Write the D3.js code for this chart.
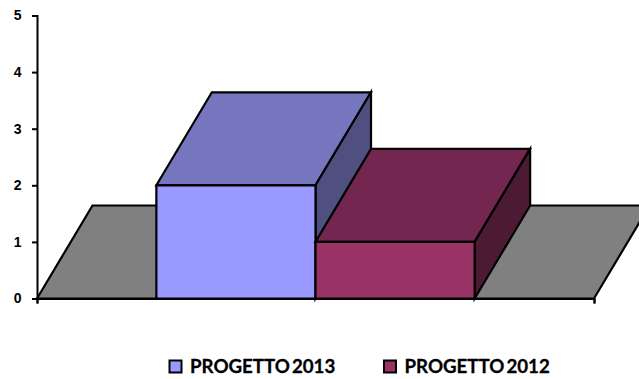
<!DOCTYPE html>
<html><head><meta charset="utf-8">
<script src="https://cdn.jsdelivr.net/npm/d3@7"></script>
<style>html,body{margin:0;padding:0;background:#fff}svg{display:block}</style>
</head><body><svg id="c" width="639" height="379"></svg>
<script>
const categories = [""];
const seriesNames = ["PROGETTO 2013", "PROGETTO 2012"];
const seriesValues = [2, 1];
const yTicks = [0, 1, 2, 3, 4, 5];
const frontColors = ["#9999FF", "#993366"];
const topColors = ["#7676BE", "#732650"];
const sideColors = ["#4F4F80", "#4D1A33"];

const svg = d3.select("#c");
const y = d3.scaleLinear().domain([0, 5]).range([298.5, 15.5]);
const x0 = d3.scaleBand().domain(categories).range([37, 594]);
const gap = x0.bandwidth() * 1.5 / 3.5 / 2;
const x = d3.scaleBand().domain(seriesNames).range([37 + gap, 594 - gap]);
const dx = 55.5, dy = -93;
const stroke = { stroke: "#000", sw: 2.2 };
const line = d3.line();
const poly = (pts, fill) => svg.append("path")
  .attr("d", line(pts) + "Z").attr("fill", fill)
  .attr("stroke", stroke.stroke).attr("stroke-width", stroke.sw).attr("stroke-linejoin", "miter");

// floor
poly([[37, y(0)], [37 + dx, y(0) + dy], [594 + dx, y(0) + dy], [594, y(0)]], "#808080");

// bars
seriesNames.forEach((s, i) => {
  const l = x(s), r = l + x.bandwidth(), t = y(seriesValues[i]), b = y(0);
  poly([[l, t], [l + dx, t + dy], [r + dx, t + dy], [r, t]], topColors[i]);
  poly([[r, t], [r + dx, t + dy], [r + dx, b + dy], [r, b]], sideColors[i]);
  poly([[l, t], [r, t], [r, b], [l, b]], frontColors[i]);
});

// axes
const yAxis = svg.append("g").attr("transform", "translate(37,0)")
  .call(d3.axisLeft(y).tickValues(yTicks).tickSize(5).tickPadding(10.5).tickFormat(d3.format("d")));
yAxis.selectAll("path,line").attr("stroke", "#000").attr("stroke-width", 2);
yAxis.selectAll("text").attr("font-family", "'Liberation Sans'").attr("font-weight", "bold")
  .attr("font-size", 14).attr("fill", "#000");
const xAxis = svg.append("g").attr("transform", `translate(0,${y(0)})`)
  .call(d3.axisBottom(d3.scaleLinear().domain([37, 594]).range([37, 594]))
    .tickValues([37, 594]).tickSize(5).tickFormat(""));
xAxis.selectAll("path,line").attr("stroke", "#000").attr("stroke-width", 2);

// legend
const legendX = d3.scaleOrdinal().domain(seriesNames).range([169.5, 384]);
seriesNames.forEach((s, i) => {
  svg.append("rect").attr("x", legendX(s)).attr("y", 360.5).attr("width", 12).attr("height", 12)
    .attr("fill", frontColors[i]).attr("stroke", "#000").attr("stroke-width", 2);
  svg.append("text").attr("x", legendX(s) + 20.5).attr("y", 373)
    .attr("font-family", "Lato").attr("font-weight", "bold").attr("font-size", 18.7)
    .attr("word-spacing", -2.5).attr("stroke", "#000").attr("stroke-width", 0.3)
    .attr("fill", "#000").text(s);
});
</script></body></html>
